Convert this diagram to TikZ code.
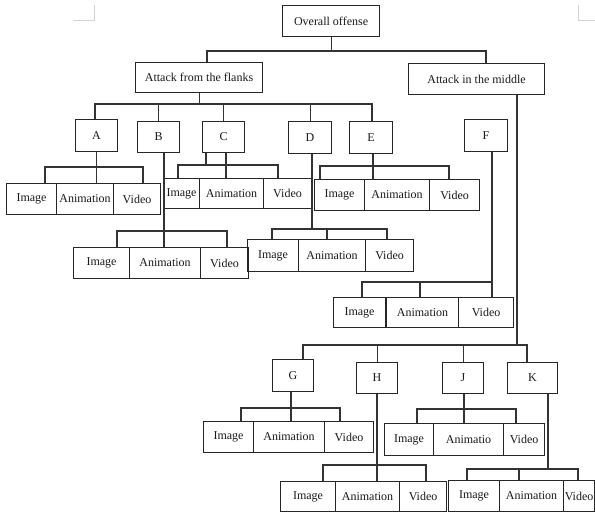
\documentclass[tikz,border=0pt]{standalone}
\usepackage{fontspec}
\setmainfont{Liberation Serif}
\tikzset{
  cell/.style={draw=black!85, line width=1.1pt, inner sep=0pt, anchor=north west, font=\fontsize{12}{14}\selectfont, text=black!90},
  conn/.style={draw=black!80, line width=1.1pt},
  mark/.style={}
}
\newcommand\cellbox[6]{\node[cell, minimum width=#4pt, minimum height=#5pt] (#1) at (#2,#3) {#6};}
\begin{document}
\begin{tikzpicture}[x=1pt,y=-1pt]
\useasboundingbox (0,0) rectangle (595,512);
% corner marks
\draw[gray!35, line width=0.8pt] (73,20) -- (94,20) -- (94,5);
\draw[gray!35, line width=0.8pt] (578,5) -- (578,20) -- (595,20);
% top levels
\cellbox{ov}{282}{5}{97}{31}{Overall offense}
\cellbox{fl}{135}{62}{127}{30}{Attack from the flanks}
\cellbox{mid}{408}{63}{136}{31}{Attack in the middle}
% letters
\cellbox{A}{75}{119}{42}{32}{A}
\cellbox{B}{137}{121}{42}{31}{B}
\cellbox{C}{202}{121}{42}{31}{C}
\cellbox{D}{288}{121}{43}{32}{D}
\cellbox{E}{349}{121}{43}{32}{E}
\cellbox{F}{464}{119}{43}{32}{F}
\cellbox{G}{272}{359}{41}{32}{G}
\cellbox{H}{356}{362}{41}{31}{H}
\cellbox{J}{442}{362}{41}{31}{J}
\cellbox{K}{507}{362}{50}{31}{K}
% rows
\cellbox{aI}{6}{183}{50}{31}{Image}
\cellbox{aA}{56}{183}{57}{31}{Animation}
\cellbox{aV}{113}{183}{47}{31}{Video}
\cellbox{cI}{163}{178}{36}{30}{Image}
\cellbox{cA}{199}{178}{64}{30}{Animation}
\cellbox{cV}{263}{178}{48}{30}{Video}
\cellbox{eI}{314}{179}{50}{31}{Image}
\cellbox{eA}{364}{179}{65}{31}{Animation}
\cellbox{eV}{429}{179}{50}{31}{Video}
\cellbox{bI}{73}{247}{56}{31}{Image}
\cellbox{bA}{129}{247}{71}{31}{Animation}
\cellbox{bV}{200}{247}{48}{31}{Video}
\cellbox{dI}{247}{239}{51}{32}{Image}
\cellbox{dA}{298}{239}{67}{32}{Animation}
\cellbox{dV}{365}{239}{48}{32}{Video}
\cellbox{fI}{333}{297}{52}{30}{Image}
\cellbox{fA}{386}{297}{72}{30}{Animation}
\cellbox{fV}{458}{297}{55}{30}{Video}
\cellbox{gI}{203}{421}{50}{31}{Image}
\cellbox{gA}{253}{421}{71}{31}{Animation}
\cellbox{gV}{324}{421}{49}{31}{Video}
\cellbox{jI}{384}{423}{49}{32}{Image}
\cellbox{jA}{433}{423}{70}{32}{Animatio}
\cellbox{jV}{503}{423}{41}{32}{Video}
\cellbox{hI}{280}{481}{55}{30}{Image}
\cellbox{hA}{335}{481}{64}{30}{Animation}
\cellbox{hV}{399}{481}{47}{30}{Video}
\cellbox{kI}{448}{480}{51}{31}{Image}
\cellbox{kA}{499}{480}{64}{31}{Animation}
\cellbox{kV}{563}{480}{31}{31}{Video}
% connectors: top
\coordinate (b0l) at (207,51);
\coordinate (b0r) at (486,51);
\draw[conn] (ov.south) -- (ov.south |- b0l);
\draw[conn] (b0l |- fl.north) -- (b0l) -- (b0r) -- (b0r |- mid.north);
% flanks
\coordinate (b1l) at (95,104);
\coordinate (b1r) at (372,104);
\draw[conn] (fl.south) -- (fl.south |- b1l);
\draw[conn] (b1l |- A.north) -- (b1l) -- (b1r) -- (b1r |- E.north);
\draw[conn] (B.north) -- (B.north |- b1l);
\draw[conn] (C.north) -- (C.north |- b1l);
\draw[conn] (D.north) -- (D.north |- b1l);
% middle
\coordinate (rm0) at (517,345);
\coordinate (b2l) at (303,345);
\coordinate (b2r) at (527,345);
\draw[conn] (rm0 |- mid.south) -- (rm0);
\draw[conn] (b2l |- G.north) -- (b2l) -- (b2r) -- (b2r |- K.north);
\draw[conn] (H.north) -- (H.north |- b2l);
\draw[conn] (J.north) -- (J.north |- b2l);
% A
\coordinate (ra1) at (45,167);
\coordinate (ra2) at (143,167);
\draw[conn] (A.south) -- (A.south |- aA.north);
\draw[conn] (ra1 |- aI.north) -- (ra1) -- (ra2) -- (ra2 |- aV.north);
% B
\coordinate (rb0) at (164,231);
\coordinate (rb1) at (117,231);
\coordinate (rb2) at (227,231);
\draw[conn] (rb0 |- B.south) -- (rb0 |- bA.north);
\draw[conn] (rb1 |- bI.north) -- (rb1) -- (rb2) -- (rb2 |- bV.north);
% C
\coordinate (rc1) at (178,165);
\coordinate (rc2) at (278,165);
\coordinate (rc3) at (206,165);
\coordinate (rc4) at (226,165);
\draw[conn] (rc3 |- C.south) -- (rc3);
\draw[conn] (rc4 |- C.south) -- (rc4 |- cA.north);
\draw[conn] (rc1 |- cI.north) -- (rc1) -- (rc2) -- (rc2 |- cV.north);
% D
\coordinate (rd0) at (312,229);
\coordinate (rd1) at (272,229);
\coordinate (rd2) at (387,229);
\coordinate (rd3) at (327,229);
\draw[conn] (rd0 |- D.south) -- (rd0);
\draw[conn] (rd1 |- dI.north) -- (rd1) -- (rd2) -- (rd2 |- dV.north);
\draw[conn] (rd3) -- (rd3 |- dA.north);
% E
\coordinate (re0) at (373,166);
\coordinate (re1) at (320,166);
\coordinate (re2) at (449,166);
\draw[conn] (re0 |- E.south) -- (re0 |- eA.north);
\draw[conn] (re1 |- eI.north) -- (re1) -- (re2) -- (re2 |- eV.north);
% F
\coordinate (rf0) at (492,282);
\coordinate (rf1) at (362,282);
\coordinate (rf2) at (420,282);
\draw[conn] (rf0 |- F.south) -- (rf0 |- fV.north);
\draw[conn] (rf1 |- fI.north) -- (rf1) -- (rf0);
\draw[conn] (rf2) -- (rf2 |- fA.north);
% G
\coordinate (rg0) at (291,408);
\coordinate (rg1) at (241,408);
\coordinate (rg2) at (340,408);
\draw[conn] (rg0 |- G.south) -- (rg0 |- gA.north);
\draw[conn] (rg1 |- gI.north) -- (rg1) -- (rg2) -- (rg2 |- gV.north);
% H
\coordinate (rh0) at (377,465);
\coordinate (rh1) at (323,465);
\coordinate (rh2) at (426,465);
\draw[conn] (rh0 |- H.south) -- (rh0 |- hA.north);
\draw[conn] (rh1 |- hI.north) -- (rh1) -- (rh2) -- (rh2 |- hV.north);
% J
\coordinate (rj0) at (464,409);
\coordinate (rj1) at (417,409);
\coordinate (rj2) at (516,409);
\draw[conn] (rj0 |- J.south) -- (rj0 |- jA.north);
\draw[conn] (rj1 |- jI.north) -- (rj1) -- (rj2) -- (rj2 |- jV.north);
% K
\coordinate (rk0) at (548,469);
\coordinate (rk1) at (467,469);
\coordinate (rk2) at (578,469);
\coordinate (rk3) at (519,469);
\draw[conn] (rk0 |- K.south) -- (rk0);
\draw[conn] (rk1 |- kI.north) -- (rk1) -- (rk2) -- (rk2 |- kV.north);
\draw[conn] (rk3) -- (rk3 |- kA.north);
\end{tikzpicture}
\end{document}
